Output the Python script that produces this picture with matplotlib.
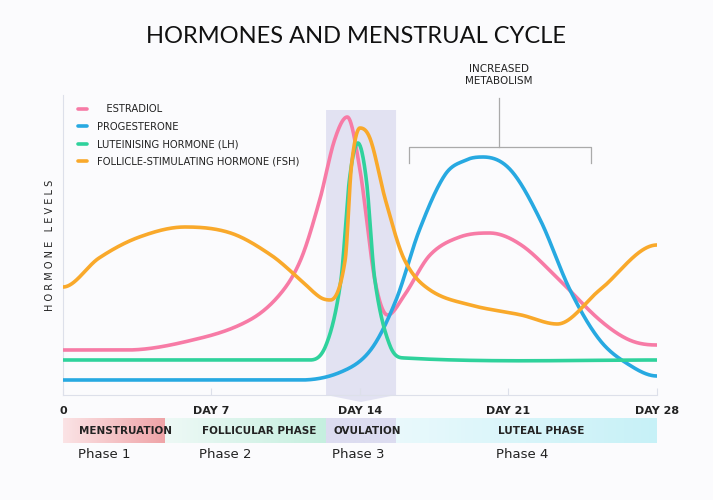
import numpy as np
import matplotlib
matplotlib.use("Agg")
import matplotlib.pyplot as plt
from matplotlib.patches import Polygon
from matplotlib import font_manager

# ---- data (day, level) ----
est_days = [0, 3, 6.5, 8.8, 10.2, 11.2, 12.1, 12.8, 13.4, 14.0, 14.7, 15.3, 16.1, 17.3, 18.7, 20.1, 21.6, 23.4, 25.3, 26.7, 28]
est_lvls = [45, 45, 57, 75, 100, 135, 195, 255, 278, 225, 115, 80, 100, 140, 158, 162, 150, 115, 75, 55, 50]
pro_days = [0, 11.2, 13.1, 14.5, 15.7, 16.8, 18.0, 19.0, 19.8, 21.1, 22.5, 23.9, 25.3, 26.7, 28]
pro_lvls = [15, 15, 23, 45, 95, 165, 220, 235, 238, 225, 175, 105, 55, 30, 19]
lh_days = [0, 11.6, 12.4, 13.1, 13.5, 13.9, 14.3, 14.7, 15.4, 16.1, 28]
lh_lvls = [35, 35, 50, 115, 215, 252, 215, 115, 50, 37, 35]
fsh_days = [0, 1.7, 3.6, 5.75, 7.9, 9.8, 11.2, 12.1, 12.6, 13.3, 13.6, 14.0, 14.5, 15.2, 16.1, 17.3, 19.2, 21.6, 23.3, 25.3, 28]
fsh_lvls = [108, 137, 158, 168, 162, 140, 115, 98, 95, 135, 230, 267, 255, 195, 135, 105, 90, 80, 71, 105, 150]

series_names = ["   ESTRADIOL", "PROGESTERONE", "LUTEINISING HORMONE (LH)", "FOLLICLE-STIMULATING HORMONE (FSH)"]
series_colors = ["#f77ba6", "#27a9e1", "#2fd29c", "#f9a92b"]

tick_days = [0, 7, 14, 21, 28]
tick_labels = ["0", "DAY 7", "DAY 14", "DAY 21", "DAY 28"]

phase_names = ["MENSTRUATION", "FOLLICULAR PHASE", "OVULATION", "LUTEAL PHASE"]
phase_bounds = [0, 4.8, 12.4, 15.7, 28]
phase_labels = ["Phase 1", "Phase 2", "Phase 3", "Phase 4"]

names = {f.name for f in font_manager.fontManager.ttflist}
narrow = "Liberation Sans Narrow" if "Liberation Sans Narrow" in names else "DejaVu Sans"


def smooth(x, y, xs):
    x = np.asarray(x, float); y = np.asarray(y, float)
    h = np.diff(x)
    m = np.zeros_like(y)
    for k in range(1, len(x) - 1):
        m[k] = (y[k + 1] - y[k - 1]) / (x[k + 1] - x[k - 1])
        d0 = (y[k] - y[k - 1]); d1 = (y[k + 1] - y[k])
        if d0 * d1 <= 0:
            m[k] = 0.0
    idx = np.clip(np.searchsorted(x, xs) - 1, 0, len(h) - 1)
    t = (xs - x[idx]) / h[idx]
    h00 = 2*t**3 - 3*t**2 + 1; h10 = t**3 - 2*t**2 + t
    h01 = -2*t**3 + 3*t**2; h11 = t**3 - t**2
    return h00*y[idx] + h10*h[idx]*m[idx] + h01*y[idx+1] + h11*h[idx]*m[idx+1]


fig = plt.figure(figsize=(7.13, 5.0), dpi=100)
fig.patch.set_facecolor("#fbfbfd")
ax = fig.add_axes([63/713, 105/500, 594/713, 300/500])
ax.set_facecolor("none")
ax.set_xlim(0, 28)
ax.set_ylim(0, 300)

band = Polygon([[12.4, 0], [12.4, 285], [15.7, 285], [15.7, 0], [14.05, -7]],
               closed=True, facecolor="#dcdcf0", edgecolor="none", alpha=0.8, zorder=0, clip_on=False)
ax.add_patch(band)

xs = np.linspace(0, 28, 1400)
for dd, ll, c, n in zip([est_days, pro_days, lh_days, fsh_days],
                        [est_lvls, pro_lvls, lh_lvls, fsh_lvls], series_colors, series_names):
    ax.plot(xs, smooth(dd, ll, xs), color=c, lw=2.6, label=n, solid_capstyle="round", zorder=3)

leg = ax.legend(loc="upper left", bbox_to_anchor=(0.01, 1.0), frameon=False, handlelength=0.9,
                handletextpad=1.0, labelspacing=0.75, prop={"size": 7.2})
for t in leg.get_texts():
    t.set_color("#222222")

for s in ["top", "right"]:
    ax.spines[s].set_visible(False)
for s in ["left", "bottom"]:
    ax.spines[s].set_color("#dde0ea")
ax.set_yticks([])
ax.set_xticks(tick_days)
ax.set_xticklabels(tick_labels, fontsize=8, fontweight="bold", color="#222222", fontfamily=narrow)
ax.tick_params(axis="x", direction="in", length=5, color="#dde0ea", pad=8)
ax.set_ylabel("H O R M O N E   L E V E L S", fontsize=7, color="#222222", labelpad=6)

bx0, bx1, bxc, by = 16.3, 24.9, 20.55, 248
ax.plot([bx0, bx0, bx1, bx1], [232, by, by, 232], color="#aaaaaa", lw=0.9, clip_on=False)
ax.plot([bxc, bxc], [by, 297], color="#aaaaaa", lw=0.9, clip_on=False)
ax.text(bxc, 320, "INCREASED\nMETABOLISM", ha="center", va="center", fontsize=7.5,
        color="#222222", linespacing=1.3, clip_on=False)

pcols = [("#fbe3e5", "#efa4a8"), ("#eef9f6", "#c5efdf"), ("#dcdcf0", "#dcdcf0"), ("#e9f9fc", "#c7f1f7")]
for i, (n, lab) in enumerate(zip(phase_names, phase_labels)):
    a, b = phase_bounds[i], phase_bounds[i + 1]
    c0 = np.array(matplotlib.colors.to_rgb(pcols[i][0])); c1 = np.array(matplotlib.colors.to_rgb(pcols[i][1]))
    grad = np.linspace(0, 1, 64)[None, :, None] * (c1 - c0) + c0
    ax.imshow(grad, extent=[a, b, -48, -23], aspect="auto", clip_on=False, zorder=1)
    tx = {0: 0.75, 1: 6.55, 2: 12.75, 3: 20.5}[i]
    ax.text(tx, -35.5, n, ha="left", va="center", fontsize=7.5, fontweight="bold", color="#222222",
            fontfamily=narrow, clip_on=False)
    px = {0: 0.7, 1: 6.4, 2: 12.7, 3: 20.4}[i]
    ax.text(px, -60, lab, ha="left", va="center", fontsize=9.5, color="#222222", clip_on=False)
ax.set_xlim(0, 28); ax.set_ylim(0, 300)

fig.text(0.5, 0.927, "HORMONES AND MENSTRUAL CYCLE", ha="center", va="center",
         fontsize=17, color="#111111", fontfamily="Lato")

fig.savefig("out.png", dpi=100, facecolor=fig.get_facecolor())
